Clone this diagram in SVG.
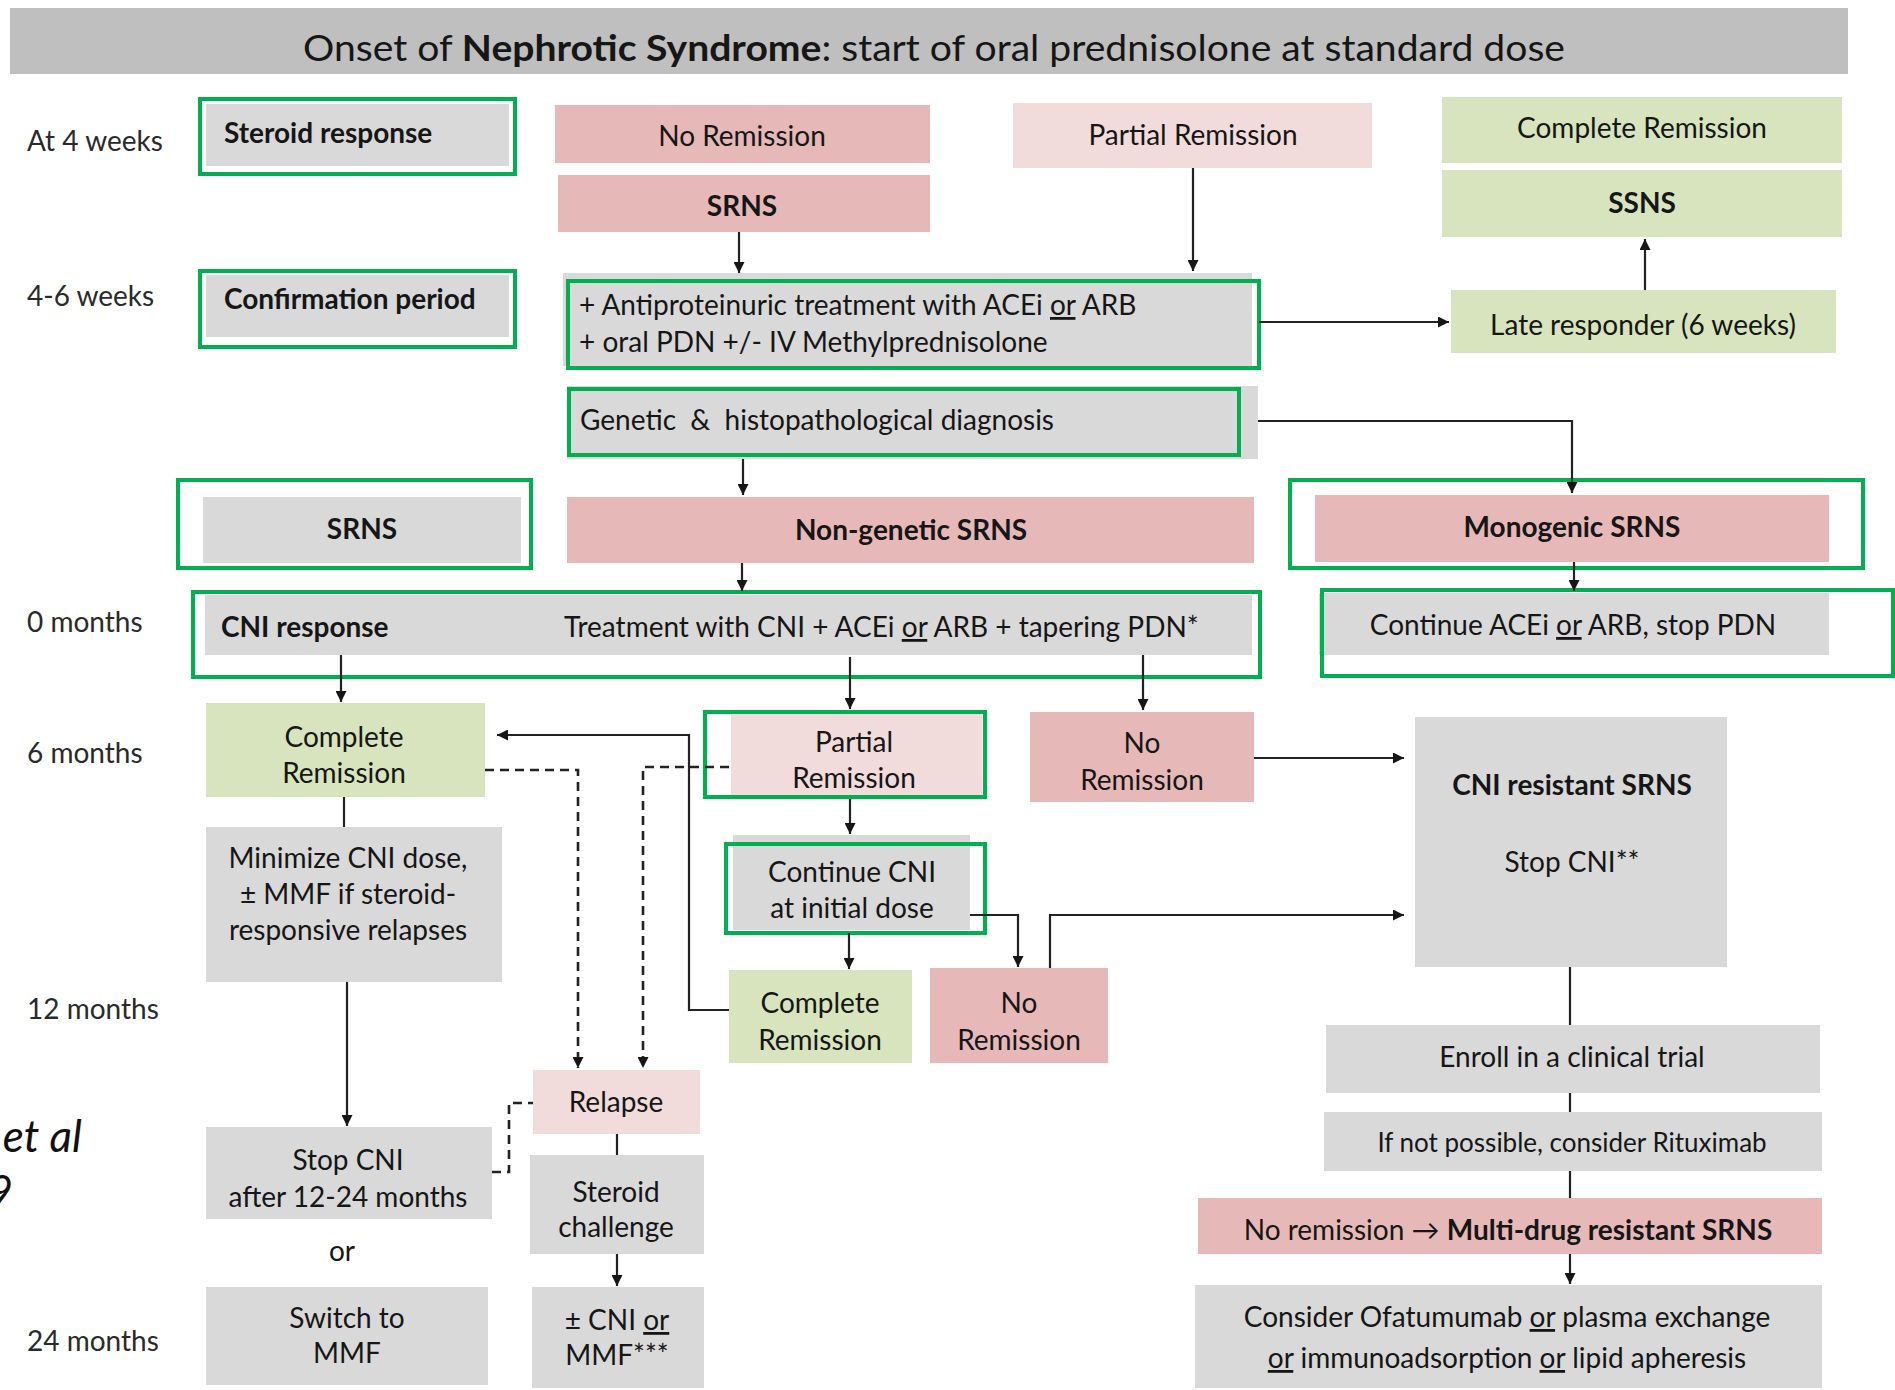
<svg xmlns="http://www.w3.org/2000/svg" width="1895" height="1390" viewBox="0 0 1895 1390">
<style>
  .g{fill:#d9d9d9}
  .p{fill:#e6b9b8}
  .lp{fill:#f2dcdb}
  .gr{fill:#d7e4bd}
  .hl{fill:none;stroke:#00b050;stroke-width:4}
  text{font-family:Lato,"Liberation Sans",sans-serif;font-size:28px;fill:#161616}
  .b{font-weight:bold}
  .m{text-anchor:middle}
  .u{text-decoration:underline}
  .lbl{font-size:28px;fill:#2a2a2a}
  .c{fill:none;stroke:#222222;stroke-width:2.2}
  .d{stroke-dasharray:9 6;stroke-width:2.6}
  .a{marker-end:url(#ah)}
</style>
<defs>
  <marker id="ah" viewBox="0 0 10 10" refX="10" refY="5" markerUnits="userSpaceOnUse" markerWidth="13" markerHeight="11" orient="auto">
    <path d="M0,0 L10,5 L0,10 z" fill="#161616"/>
  </marker>
</defs>
<rect width="1895" height="1390" fill="#ffffff"/>

<!-- header -->
<g id="header">
  <rect x="10" y="8" width="1838" height="66" fill="#bfbfbf"/>
  <text class="m" x="934" y="61" style="font-size:36px" textLength="1262" lengthAdjust="spacingAndGlyphs">Onset of <tspan class="b">Nephrotic Syndrome</tspan>: start of oral prednisolone at standard dose</text>
</g>

<!-- time axis -->
<g id="timeline">
  <text class="lbl" x="27" y="151">At 4 weeks</text>
  <text class="lbl" x="27" y="306">4-6 weeks</text>
  <text class="lbl" x="27" y="632">0 months</text>
  <text class="lbl" x="27" y="763">6 months</text>
  <text class="lbl" x="27" y="1019">12 months</text>
  <text class="lbl" x="27" y="1351">24 months</text>
</g>

<!-- citation fragment at the left margin -->
<g id="citation">
  <text x="82" y="1152" style="font-size:44px;font-style:italic;text-anchor:end;fill:#111">et al</text>
  <text x="13" y="1207" style="font-size:44px;font-style:italic;text-anchor:end;fill:#111">9</text>
</g>

<!-- nodes -->
<g id="steroid-response">
  <rect class="g" x="206" y="104" width="303" height="62"/>
  <rect class="hl" x="200" y="99" width="315" height="75"/>
  <text class="b" x="224" y="143">Steroid response</text>
</g>
<g id="confirmation-period">
  <rect class="g" x="206" y="275" width="303" height="62"/>
  <rect class="hl" x="200" y="271" width="315" height="76"/>
  <text class="b" x="224" y="309">Confirmation period</text>
</g>
<g id="no-remission-4w">
  <rect class="p" x="555" y="105" width="375" height="58"/>
  <text class="m" x="742" y="146">No Remission</text>
</g>
<g id="srns-4w">
  <rect class="p" x="558" y="175" width="372" height="57"/>
  <text class="m b" x="742" y="216">SRNS</text>
</g>
<g id="partial-remission-4w">
  <rect class="lp" x="1013" y="103" width="359" height="65"/>
  <text class="m" x="1193" y="145">Partial Remission</text>
</g>
<g id="complete-remission-4w">
  <rect class="gr" x="1442" y="97" width="400" height="66"/>
  <text class="m" x="1642" y="138">Complete Remission</text>
</g>
<g id="ssns">
  <rect class="gr" x="1442" y="170" width="400" height="67"/>
  <text class="m b" x="1642" y="213">SSNS</text>
</g>
<g id="late-responder">
  <rect class="gr" x="1451" y="290" width="385" height="63"/>
  <text class="m" x="1643" y="335">Late responder (6 weeks)</text>
</g>
<g id="antiproteinuric">
  <rect class="g" x="563" y="273" width="689" height="93"/>
  <rect class="hl" x="568" y="281" width="691" height="87"/>
  <text x="579" y="315">+ Antiproteinuric treatment with ACEi <tspan class="u">or</tspan> ARB</text>
  <text x="579" y="352">+ oral PDN +/- IV Methylprednisolone</text>
</g>
<g id="diagnosis">
  <rect class="g" x="567" y="386" width="691" height="73"/>
  <rect class="hl" x="569" y="389" width="670" height="66"/>
  <text x="580" y="430" style="white-space:pre">Genetic  &amp;  histopathological diagnosis</text>
</g>
<g id="srns-label">
  <rect class="g" x="203" y="497" width="318" height="66"/>
  <rect class="hl" x="178" y="480" width="353" height="88"/>
  <text class="m b" x="362" y="539">SRNS</text>
</g>
<g id="non-genetic-srns">
  <rect class="p" x="567" y="497" width="687" height="66"/>
  <text class="m b" x="911" y="540">Non-genetic SRNS</text>
</g>
<g id="monogenic-srns">
  <rect class="p" x="1315" y="495" width="514" height="67"/>
  <rect class="hl" x="1290" y="480" width="573" height="88"/>
  <text class="m b" x="1572" y="537">Monogenic SRNS</text>
</g>
<g id="cni-treatment">
  <rect class="g" x="205" y="595" width="1047" height="60"/>
  <rect class="hl" x="193" y="592" width="1067" height="85"/>
  <text class="b" x="221" y="637">CNI response</text>
  <text x="564" y="637">Treatment with CNI + ACEi <tspan class="u">or</tspan> ARB + tapering PDN*</text>
</g>
<g id="continue-acei">
  <rect class="g" x="1319" y="593" width="510" height="62"/>
  <rect class="hl" x="1322" y="590" width="571" height="86"/>
  <text class="m" x="1573" y="635">Continue ACEi <tspan class="u">or</tspan> ARB, stop PDN</text>
</g>
<g id="complete-remission-6m">
  <rect class="gr" x="206" y="703" width="279" height="94"/>
  <text class="m" x="344" y="747">Complete</text>
  <text class="m" x="344" y="783">Remission</text>
</g>
<g id="partial-remission-6m">
  <rect class="lp" x="731" y="710" width="251" height="90"/>
  <rect class="hl" x="705" y="712" width="280" height="85"/>
  <text class="m" x="854" y="752">Partial</text>
  <text class="m" x="854" y="788">Remission</text>
</g>
<g id="no-remission-6m">
  <rect class="p" x="1030" y="712" width="224" height="90"/>
  <text class="m" x="1142" y="753">No</text>
  <text class="m" x="1142" y="790">Remission</text>
</g>
<g id="cni-resistant">
  <rect class="g" x="1415" y="717" width="312" height="250"/>
  <text class="m b" x="1572" y="795">CNI resistant SRNS</text>
  <text class="m" x="1572" y="872">Stop CNI**</text>
</g>
<g id="minimize-cni">
  <rect class="g" x="206" y="827" width="296" height="155"/>
  <text class="m" x="348" y="868">Minimize CNI dose,</text>
  <text class="m" x="348" y="904">± MMF if steroid-</text>
  <text class="m" x="348" y="940">responsive relapses</text>
</g>
<g id="continue-cni">
  <rect class="g" x="733" y="835" width="237" height="95"/>
  <rect class="hl" x="726" y="844" width="259" height="89"/>
  <text class="m" x="852" y="882">Continue CNI</text>
  <text class="m" x="852" y="918">at initial dose</text>
</g>
<g id="complete-remission-12m">
  <rect class="gr" x="729" y="970" width="183" height="93"/>
  <text class="m" x="820" y="1013">Complete</text>
  <text class="m" x="820" y="1050">Remission</text>
</g>
<g id="no-remission-12m">
  <rect class="p" x="930" y="968" width="178" height="95"/>
  <text class="m" x="1019" y="1013">No</text>
  <text class="m" x="1019" y="1050">Remission</text>
</g>
<g id="clinical-trial">
  <rect class="g" x="1326" y="1025" width="494" height="68"/>
  <text class="m" x="1572" y="1067">Enroll in a clinical trial</text>
</g>
<g id="rituximab">
  <rect class="g" x="1324" y="1112" width="498" height="59"/>
  <text class="m" x="1572" y="1152" style="font-size:26px">If not possible, consider Rituximab</text>
</g>
<g id="multi-drug-resistant">
  <rect class="p" x="1198" y="1198" width="624" height="56"/>
  <text class="m" x="1508" y="1240">No remission → <tspan class="b">Multi-drug resistant SRNS</tspan></text>
</g>
<g id="second-line">
  <rect class="g" x="1195" y="1285" width="627" height="103"/>
  <text class="m" x="1507" y="1327">Consider Ofatumumab <tspan class="u">or</tspan> plasma exchange</text>
  <text class="m" x="1507" y="1368"><tspan class="u">or</tspan> immunoadsorption <tspan class="u">or</tspan> lipid apheresis</text>
</g>
<g id="relapse">
  <rect class="lp" x="533" y="1070" width="167" height="64"/>
  <text class="m" x="616" y="1112">Relapse</text>
</g>
<g id="steroid-challenge">
  <rect class="g" x="530" y="1155" width="174" height="99"/>
  <text class="m" x="616" y="1202">Steroid</text>
  <text class="m" x="616" y="1237">challenge</text>
</g>
<g id="cni-or-mmf">
  <rect class="g" x="532" y="1287" width="172" height="101"/>
  <text class="m" x="617" y="1330">± CNI <tspan class="u">or</tspan></text>
  <text class="m" x="617" y="1365">MMF***</text>
</g>
<g id="stop-cni">
  <rect class="g" x="206" y="1127" width="286" height="92"/>
  <text class="m" x="348" y="1170">Stop CNI</text>
  <text class="m" x="348" y="1207">after 12-24 months</text>
</g>
<g id="or-label">
  <text class="m" x="342" y="1261">or</text>
</g>
<g id="switch-mmf">
  <rect class="g" x="206" y="1287" width="282" height="98"/>
  <text class="m" x="347" y="1328">Switch to</text>
  <text class="m" x="347" y="1363">MMF</text>
</g>

<!-- connectors -->
<g id="connectors">
  <path class="c a" d="M739,232 V273"/>
  <path class="c a" d="M1193,168 V271"/>
  <path class="c a" d="M1259,322 H1449"/>
  <path class="c a" d="M1645,290 V239"/>
  <path class="c a" d="M743,459 V495"/>
  <path class="c a" d="M1258,421 H1572 V493"/>
  <path class="c a" d="M742,563 V591"/>
  <path class="c a" d="M1574,562 V591"/>
  <path class="c a" d="M341,655 V702"/>
  <path class="c a" d="M850,657 V709"/>
  <path class="c a" d="M1143,655 V710"/>
  <path class="c a" d="M1254,758 H1404"/>
  <path class="c" d="M344,797 V827"/>
  <path class="c a" d="M850,799 V834"/>
  <path class="c a" d="M849,933 V969"/>
  <path class="c a" d="M970,915 H1018 V967"/>
  <path class="c a" d="M1050,968 V915 H1404"/>
  <path class="c a" d="M729,1010 H689 V735 H497"/>
  <path class="c d a" d="M485,770 H578 V1068"/>
  <path class="c d a" d="M729,767 H643 V1068"/>
  <path class="c d" d="M492,1172 H509 V1103 H533"/>
  <path class="c a" d="M347,982 V1126"/>
  <path class="c" d="M617,1134 V1155"/>
  <path class="c a" d="M617,1254 V1286"/>
  <path class="c" d="M1570,967 V1025"/>
  <path class="c" d="M1570,1093 V1112"/>
  <path class="c" d="M1570,1171 V1198"/>
  <path class="c a" d="M1570,1254 V1284"/>
</g>
</svg>
